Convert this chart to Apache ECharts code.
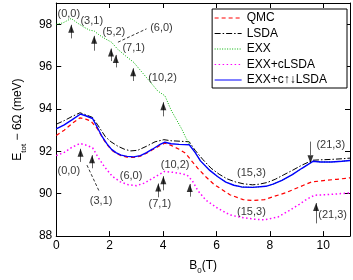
<!DOCTYPE html>
<html>
<head>
<meta charset="utf-8">
<script src="https://cdn.jsdelivr.net/npm/echarts@6/dist/echarts.min.js"></script>
<style>html,body{margin:0;padding:0;background:#fff;}#c{width:353px;height:280px;}</style>
</head>
<body>
<div id="c"></div>
<script>
// ---- data ----
var xTicks = [0, 2, 4, 6, 8, 10];
var yTicks = [88, 90, 92, 94, 96, 98];

var qmcX = [0,0.3,0.6,0.89,1.1,1.3,1.55,1.72,1.9,2.07,2.25,2.43,2.65,2.9,3.15,3.38,3.6,3.85,4.07,4.3,4.6,4.85,5.1,5.3,5.6,5.9,6.5,7.0,7.35,7.8,8.12,8.6,9.07,9.55,10,10.5,11];
var qmcY = [92.75,93.0,93.32,93.58,93.52,93.43,93.05,92.66,92.32,92.06,91.9,91.79,91.73,91.71,91.77,91.91,92.07,92.25,92.39,92.28,92.1,91.9,91.5,91.2,90.8,90.45,89.95,89.72,89.68,89.72,89.86,90.05,90.3,90.55,90.62,90.68,90.75];

var lsdaX = [0,0.3,0.6,0.89,1.1,1.36,1.55,1.84,2.05,2.31,2.55,2.79,3.05,3.38,3.7,4.03,4.3,4.6,4.98,5.2,5.5,5.8,6.1,6.4,6.7,7.0,7.35,7.6,7.9,8.2,8.5,8.84,9.2,9.6,9.9,10.3,10.7,11];
var lsdaY = [93.28,93.45,93.65,93.82,93.73,93.6,93.25,92.69,92.45,92.24,92.1,92.02,92.05,92.24,92.45,92.55,92.5,92.48,92.45,92.05,91.6,91.2,90.92,90.7,90.56,90.47,90.42,90.45,90.53,90.68,90.88,91.1,91.35,91.58,91.6,91.62,91.65,91.68];

var exxX = [0,0.25,0.56,0.8,1.05,1.25,1.42,1.6,1.85,2.07,2.3,2.6,2.9,3.2,3.5,3.8,4.07,4.3,4.5,4.7,4.85,5.0,5.4,5.75,6.05,6.35,6.65,6.94,7.35,7.85,8.12,8.45,8.84,9.2,9.61,9.9,10.3,10.7,11];
var exxY = [98.0,98.06,98.27,98.05,97.85,97.72,97.68,97.5,97.3,97.15,96.82,96.5,96.2,95.75,95.3,94.85,94.62,93.95,93.5,93.05,92.65,92.31,91.55,91.1,90.8,90.55,90.4,90.32,90.3,90.35,90.45,90.63,90.9,91.2,91.53,91.5,91.5,91.53,91.57];

var cLsdaX = [0,0.3,0.6,0.89,1.1,1.36,1.55,1.8,2.1,2.4,2.7,3.0,3.3,3.6,3.85,4.05,4.3,4.6,4.9,5.1,5.3,5.6,6.0,6.5,6.94,7.4,7.8,8.3,8.72,9.1,9.4,9.67,10.2,11];
var cLsdaY = [91.8,91.95,92.2,92.37,92.3,92.17,91.75,91.28,90.82,90.56,90.42,90.38,90.5,90.72,90.9,91.05,91.02,90.97,90.88,90.6,90.15,89.7,89.35,89.0,88.88,88.8,88.77,88.9,89.2,89.5,89.75,89.93,89.96,90.04];

var cUdX = [0,0.3,0.6,0.91,1.1,1.36,1.55,1.72,1.9,2.07,2.25,2.43,2.65,2.9,3.15,3.38,3.6,3.85,4.07,4.3,4.6,4.98,5.2,5.4,5.75,6.05,6.35,6.65,6.94,7.35,7.85,8.12,8.45,8.84,9.2,9.61,9.9,10.3,10.7,11];
var cUdY = [93.06,93.25,93.5,93.76,93.68,93.55,93.1,92.69,92.35,92.09,91.93,91.82,91.76,91.74,91.8,91.94,92.1,92.3,92.43,92.36,92.33,92.31,91.95,91.55,91.1,90.8,90.55,90.4,90.32,90.3,90.35,90.45,90.63,90.9,91.2,91.53,91.5,91.5,91.53,91.57];

// annotation arrows (x, tail y, head y)
var arrowX    = [0.56, 1.42, 2.05, 2.23, 2.88, 4.01, 0.91, 1.34, 3.82, 4.01, 5.0, 9.52, 9.73];
var arrowTail = [97.33,96.75,96.26,95.96,95.32,93.65,91.5, 91.2, 89.83,90.16,89.86,92.46,88.6];
var arrowHead = [97.97,97.45,96.85,96.55,95.92,94.32,92.12,91.82,90.48,90.83,90.46,91.82,89.56];

// annotation labels
var labelText = ['(0,0)','(3,1)','(5,2)','(6,0)','(7,1)','(10,2)','(0,0)','(3,1)','(6,0)','(10,2)','(7,1)','(15,3)','(15,3)','(21,3)','(21,3)'];
var labelX = [0.47,1.33,2.16,3.94,2.9,3.98,0.47,1.68,2.8,4.45,3.88,7.31,7.31,10.28,10.35];
var labelY = [98.5,98.16,97.64,97.82,96.86,95.44,91.08,89.68,90.86,91.35,89.53,91.0,89.14,92.29,89.0];

// dashed leader lines
var leaderStart = [[2.31, 97.15], [1.15, 91.35]];
var leaderEnd   = [[3.38, 97.78], [1.62, 90.08]];

// legend entries
var legendNames = ['QMC', 'LSDA', 'EXX', 'EXX+cLSDA', 'EXX+c\u2191\u2193LSDA'];

// ---- build ----
function pairs(xs, ys){ return xs.map(function(x,i){ return [x, ys[i]]; }); }
var FONT = "'Liberation Sans', Arial, Helvetica, sans-serif";

var shaftData = arrowX.map(function(x,i){ return {coords: [[x, arrowTail[i]], [x, arrowHead[i]]]}; });
var headUp = [], headDown = [];
arrowX.forEach(function(x,i){
  if (arrowHead[i] > arrowTail[i]) headUp.push([x, arrowHead[i]]); else headDown.push([x, arrowHead[i]]);
});
var leaderData = leaderStart.map(function(p,i){ return {coords: [p, leaderEnd[i]]}; });
var labelData = labelText.map(function(t,i){ return {value: [labelX[i], labelY[i]], name: t}; });

var chart = echarts.init(document.getElementById('c'), null, {renderer: 'canvas'});

var axisCommon = {
  axisLine: {show: true, onZero: false, lineStyle: {color: '#000', width: 1}},
  axisTick: {show: true, inside: true, length: 5, lineStyle: {color: '#000', width: 1}},
  splitLine: {show: false}
};

function lineSeries(name, xs, ys, color, type, width, z){
  return {
    name: name, type: 'line', data: pairs(xs, ys), symbol: 'none', showSymbol: false,
    lineStyle: {color: color, type: type, width: width}, itemStyle: {color: color},
    z: z, animation: false, silent: true
  };
}

var option = {
  animation: false,
  textStyle: {fontFamily: FONT},
  grid: {left: 42, right: 3, top: 3, bottom: 32, containLabel: false},
  xAxis: [
    Object.assign({}, axisCommon, {
      type: 'value', min: 0, max: 11, interval: 2, position: 'bottom',
      axisLabel: {color: '#000', fontSize: 12, fontFamily: FONT, margin: 4, showMaxLabel: false,
        formatter: function(v){ return xTicks.indexOf(v) >= 0 ? String(v) : ''; }},
      name: 'B{sub|0}(T)', nameLocation: 'middle', nameGap: 12,
      nameTextStyle: {color: '#000', fontSize: 12, fontFamily: FONT, lineHeight: 18, verticalAlign: 'top',
        rich: {sub: {fontSize: 8, lineHeight: 8, verticalAlign: 'bottom', fontFamily: FONT, color: '#000'}}}
    }),
    Object.assign({}, axisCommon, {
      type: 'value', min: 0, max: 11, interval: 2, position: 'top', axisLabel: {show: false}
    })
  ],
  yAxis: [
    Object.assign({}, axisCommon, {
      type: 'value', min: 88, max: 99, interval: 2, position: 'left',
      axisLabel: {color: '#000', fontSize: 12, fontFamily: FONT, margin: 4, showMaxLabel: false,
        formatter: function(v){ return yTicks.indexOf(v) >= 0 ? String(v) : ''; }},
      name: 'E{sub|tot} \u2212 6\u03A9 (meV)', nameLocation: 'middle', nameGap: 27, nameRotate: 90,
      nameTextStyle: {color: '#000', fontSize: 12, fontFamily: FONT, lineHeight: 20,
        rich: {sub: {fontSize: 8, lineHeight: 8, verticalAlign: 'bottom', fontFamily: FONT, color: '#000'}}}
    }),
    Object.assign({}, axisCommon, {
      type: 'value', min: 88, max: 99, interval: 2, position: 'right', axisLabel: {show: false}
    })
  ],
  legend: {
    show: true, orient: 'vertical', right: 6, top: 9,
    backgroundColor: '#fff', borderColor: '#000', borderWidth: 1, borderRadius: 0,
    padding: [3, 20, 2, 2], itemWidth: 27, itemHeight: 12, itemGap: 3.5,
    textStyle: {color: '#000', fontSize: 12, fontFamily: FONT},
    itemStyle: {opacity: 0},
    lineStyle: {width: 1},
    data: legendNames
  },
  series: [
    lineSeries(legendNames[0], qmcX, qmcY, '#ff0000', [4, 3], 1.2, 2),
    lineSeries(legendNames[1], lsdaX, lsdaY, '#000000', [6, 2, 1.5, 2], 1, 3),
    lineSeries(legendNames[2], exxX, exxY, '#00b400', [1, 1.5], 1, 4),
    lineSeries(legendNames[3], cLsdaX, cLsdaY, '#ff00ff', [1.5, 2.5], 1.5, 5),
    lineSeries(legendNames[4], cUdX, cUdY, '#0000ff', 'solid', 1.4, 6),
    {type: 'lines', coordinateSystem: 'cartesian2d', data: shaftData, polyline: false,
     lineStyle: {color: '#666', width: 1, opacity: 1}, symbol: 'none', z: 7, silent: true, animation: false},
    {type: 'scatter', data: headUp, symbol: 'triangle', symbolSize: [6, 8], symbolOffset: [0, '50%'],
     itemStyle: {color: '#000'}, z: 8, silent: true, animation: false},
    {type: 'scatter', data: headDown, symbol: 'triangle', symbolSize: [6, 8], symbolRotate: 180, symbolOffset: [0, '50%'],
     itemStyle: {color: '#000'}, z: 8, silent: true, animation: false},
    {type: 'lines', coordinateSystem: 'cartesian2d', data: leaderData, polyline: false,
     lineStyle: {color: '#000', width: 0.8, type: [3, 2], opacity: 1}, symbol: 'none', z: 7, silent: true, animation: false},
    {type: 'scatter', data: labelData, symbol: 'circle', symbolSize: 1, itemStyle: {color: 'rgba(0,0,0,0)'},
     label: {show: true, position: 'inside', color: '#000', fontSize: 11, fontFamily: FONT, textBorderWidth: 0,
       formatter: function(p){ return p.name; }}, z: 9, silent: true, animation: false}
  ]
};
chart.setOption(option);
</script>
</body>
</html>
